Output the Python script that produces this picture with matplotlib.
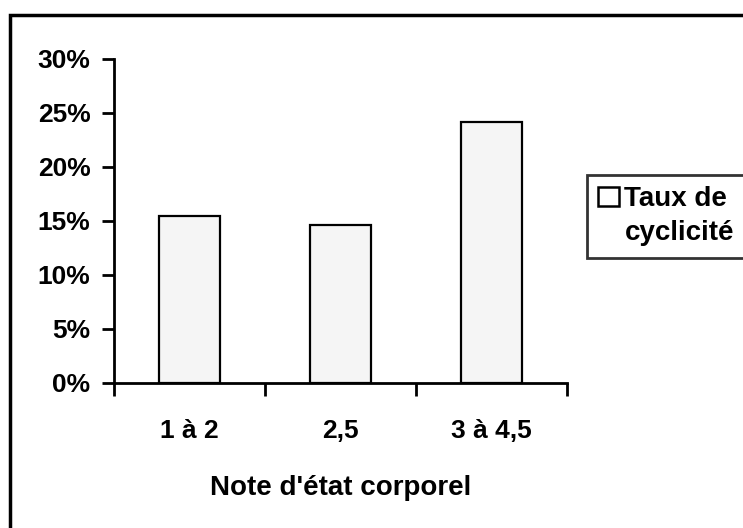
import matplotlib.pyplot as plt
from matplotlib.patches import Rectangle
from matplotlib.ticker import PercentFormatter

categories = ['1 à 2', '2,5', '3 à 4,5']
taux = [15.5, 14.6, 24.2]
series_lines = ['Taux de', 'cyclicité']

plt.rcParams['font.family'] = ['Liberation Sans', 'DejaVu Sans']
plt.rcParams['font.weight'] = 'bold'

fig = plt.figure(figsize=(7.43, 5.28), dpi=100)
ax = fig.add_axes([114 / 743, 1 - 383 / 528, (567 - 114) / 743, (383 - 59) / 528])

x = range(len(categories))
bars = ax.bar(x, taux, width=0.41, color='#f5f5f5', edgecolor='black', linewidth=1.6,
              zorder=2)

ax.set_xlim(-0.5, len(categories) - 0.5)
ax.set_ylim(0, 30)
ax.set_yticks(range(0, 31, 5))
ax.yaxis.set_major_formatter(PercentFormatter(decimals=0))

ax.set_xticks([i - 0.5 for i in range(len(categories) + 1)])
ax.set_xticklabels([])
ax.set_xticks(list(x), minor=True)
ax.set_xticklabels(categories, minor=True)
ax.tick_params(axis='x', which='major', direction='out', length=9, width=2)
ax.tick_params(axis='x', which='minor', length=0, pad=26, labelsize=19)
ax.tick_params(axis='y', direction='out', length=9, width=2, labelsize=19, pad=8)

for side in ['top', 'right']:
    ax.spines[side].set_visible(False)
for side in ['left', 'bottom']:
    ax.spines[side].set_linewidth(2)

ax.set_xlabel("Note d'état corporel", fontsize=20, fontweight='bold', labelpad=23)

# legend label wraps on two lines, the square sits on the first one
sq = Rectangle((0, 0), 1, 1, facecolor='white', edgecolor='black', linewidth=1.8)
blank = Rectangle((0, 0), 1, 1, facecolor='none', edgecolor='none')
leg = ax.legend([sq, blank], series_lines, loc='upper left',
                bbox_to_anchor=(587 / 743, 1 - 175 / 528),
                bbox_transform=fig.transFigure, fontsize=20, frameon=True,
                fancybox=False, handlelength=0.75, handleheight=0.7,
                handletextpad=0.2, borderpad=0.4, labelspacing=0.3,
                borderaxespad=0)
leg.get_frame().set_edgecolor('black')
leg.get_frame().set_linewidth(2)
for t in leg.get_texts():
    t.set_fontweight('bold')

# outer chart frame, cut by the right and bottom edges of the picture
fig.patches.append(Rectangle((10 / 743, -0.05), 1.1, 1 - 15 / 528 + 0.05,
                             transform=fig.transFigure, fill=False,
                             edgecolor='black', linewidth=2.5))

fig.savefig('out.png', dpi=100)
